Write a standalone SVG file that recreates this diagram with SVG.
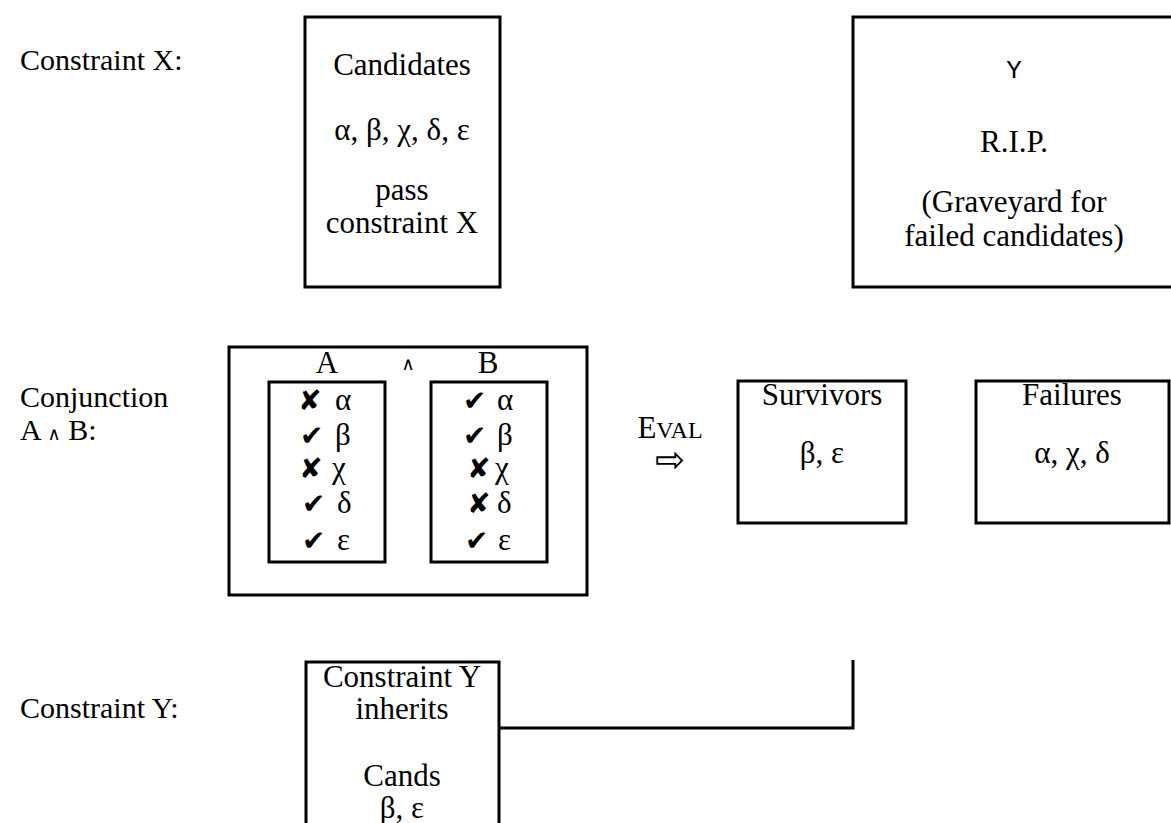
<svg xmlns="http://www.w3.org/2000/svg" width="1171" height="823" viewBox="0 0 1171 823">
<style>
.t{font-family:"Liberation Serif","Times New Roman",serif;font-size:31px;fill:#000}
.lbl{font-family:"Liberation Serif","Times New Roman",serif;font-size:30px;fill:#000}
.c{text-anchor:middle}
.box{fill:#fff;stroke:#000;stroke-width:3}
.sym{font-family:"DejaVu Sans",sans-serif;font-size:28px;fill:#000}
.mono{font-family:"Liberation Mono","Courier New",monospace;font-size:26px;fill:#000}
.ln{fill:none;stroke:#000;stroke-width:3}
.and{font-family:"DejaVu Sans",sans-serif;font-size:18px}
</style>
<rect width="1171" height="823" fill="#fff"/>

<g id="labels">
<text class="lbl" x="20" y="70">Constraint X:</text>
<text class="lbl" x="20" y="407">Conjunction</text>
<text class="lbl" x="20" y="440">A <tspan class="and">∧</tspan> B:</text>
<text class="lbl" x="20" y="718">Constraint Y:</text>
</g>

<g id="candidates">
<rect class="box" x="305" y="17" width="195" height="270"/>
<text class="t c" x="402" y="75">Candidates</text>
<text class="t c" x="402" y="140">α, β, χ, δ, ε</text>
<text class="t c" x="402" y="200">pass</text>
<text class="t c" x="402" y="233">constraint X</text>
</g>

<g id="graveyard">
<rect class="box" x="853" y="17" width="330" height="270"/>
<text class="mono c" x="1014" y="78">Y</text>
<text class="t c" x="1014" y="152">R.I.P.</text>
<text class="t c" x="1014" y="212">(Graveyard for</text>
<text class="t c" x="1014" y="246">failed candidates)</text>
</g>

<g id="conjunction">
<rect class="box" x="229" y="347" width="358" height="248"/>
<text class="t c" x="327" y="373">A</text>
<text class="c and" x="408" y="370">∧</text>
<text class="t c" x="488" y="373">B</text>
</g>

<g id="columnA">
<rect class="box" x="269" y="382" width="116" height="180"/>
<text class="t"><tspan class="sym" x="298" y="410">✘</tspan><tspan x="335" y="410">α</tspan></text>
<text class="t"><tspan class="sym" x="300" y="445">✔</tspan><tspan x="335" y="445">β</tspan></text>
<text class="t"><tspan class="sym" x="299" y="478">✘</tspan><tspan x="332" y="478">χ</tspan></text>
<text class="t"><tspan class="sym" x="302" y="513">✔</tspan><tspan x="337" y="513">δ</tspan></text>
<text class="t"><tspan class="sym" x="302" y="550">✔</tspan><tspan x="337" y="550">ε</tspan></text>
</g>

<g id="columnB">
<rect class="box" x="431" y="382" width="116" height="180"/>
<text class="t"><tspan class="sym" x="463" y="410">✔</tspan><tspan x="497" y="410">α</tspan></text>
<text class="t"><tspan class="sym" x="463" y="445">✔</tspan><tspan x="497" y="445">β</tspan></text>
<text class="t"><tspan class="sym" x="467" y="478">✘</tspan><tspan x="495" y="478">χ</tspan></text>
<text class="t"><tspan class="sym" x="467" y="513">✘</tspan><tspan x="497" y="513">δ</tspan></text>
<text class="t"><tspan class="sym" x="465" y="550">✔</tspan><tspan x="498" y="550">ε</tspan></text>
</g>

<g id="eval">
<text class="t c" x="670" y="438"><tspan>E</tspan><tspan style="font-size:24px">VAL</tspan></text>
<text class="c" x="670" y="472" style="font-family:'DejaVu Sans',sans-serif;font-size:36px">⇨</text>
</g>

<g id="survivors">
<rect class="box" x="738" y="381" width="168" height="142"/>
<text class="t c" x="822" y="405">Survivors</text>
<text class="t c" x="822" y="463">β, ε</text>
</g>

<g id="failures">
<rect class="box" x="976" y="381" width="193" height="142"/>
<text class="t c" x="1072" y="405">Failures</text>
<text class="t c" x="1072" y="463">α, χ, δ</text>
</g>

<g id="constraintY">
<rect class="box" x="306" y="662" width="193" height="180"/>
<text class="t c" x="402" y="687">Constraint Y</text>
<text class="t c" x="402" y="719">inherits</text>
<text class="t c" x="402" y="786">Cands</text>
<text class="t c" x="402" y="818">β, ε</text>
</g>

<g id="connectors">
<polyline class="ln" points="499,728 853,728 853,660"/>
</g>
</svg>
